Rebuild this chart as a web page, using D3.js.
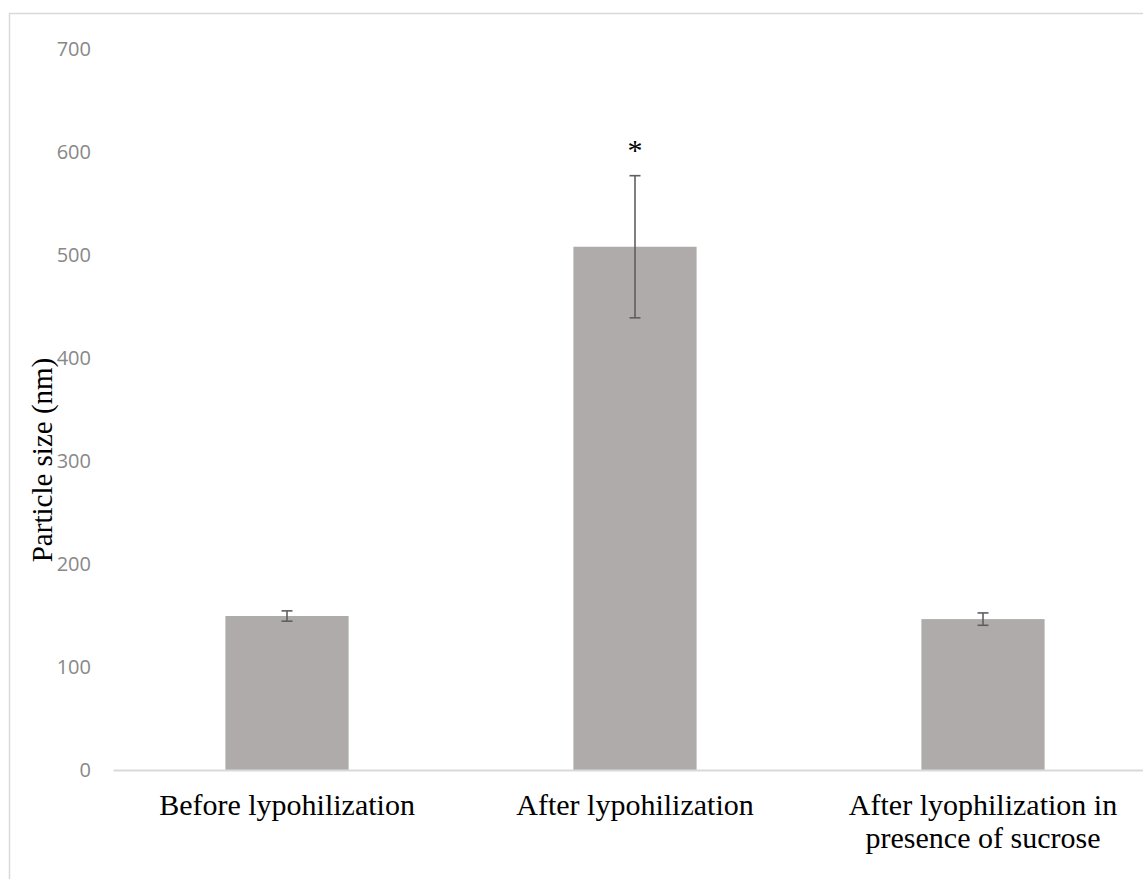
<!DOCTYPE html>
<html lang="en">
<head>
    <meta charset="UTF-8">
    <title>Particle size</title>
    <style>
        body { margin: 0; background: #fff; }
        #chart { width: 1143px; height: 879px; }
        .y-axis text { font-family: "Open Sans", "Liberation Sans", sans-serif; font-size: 20px; fill: #888888; }
        .x-axis text { font-family: "Liberation Serif", "Times New Roman", serif; font-size: 30px; fill: #000; }
    </style>
    <script src="https://d3js.org/d3.v7.min.js"></script>
</head>
<body>
    <div id="chart"></div>
    <script>
        // chart data
        const categories = ["Before lypohilization", "After lypohilization", "After lyophilization in presence of sucrose"];
        const labelLines = [["Before lypohilization"], ["After lypohilization"], ["After lyophilization in", "presence of sucrose"]];
        const means = [149.5, 508, 146.5];
        const errors = [5, 69, 6];
        const marks = ["", "*", ""];
        const yTicks = [0, 100, 200, 300, 400, 500, 600, 700];

        const width = 1143, height = 879;
        const margin = { top: 49, left: 113, bottom: 770 };

        const svg = d3.select("#chart").append("svg")
            .attr("width", width)
            .attr("height", height);

        // outer chart border (right/bottom run off the picture)
        svg.append("rect")
            .attr("x", 9.5).attr("y", 13.5)
            .attr("width", 1160).attr("height", 900)
            .attr("fill", "none")
            .attr("stroke", "#d9d9d9")
            .attr("stroke-width", 1.5);

        const x = d3.scaleBand()
            .domain(categories)
            .range([margin.left, margin.left + 348 * 3])
            .paddingInner(0.646)
            .paddingOuter(0.323);

        const y = d3.scaleLinear()
            .domain([0, 700])
            .range([margin.bottom, margin.top]);

        // y axis labels only
        const yAxis = svg.append("g")
            .attr("class", "y-axis")
            .attr("transform", `translate(${margin.left - 10},0)`)
            .call(d3.axisLeft(y).tickValues(yTicks).tickSize(0).tickPadding(12));
        yAxis.select(".domain").remove();

        // bars
        svg.selectAll("rect.bar")
            .data(means)
            .enter()
            .append("rect")
            .attr("class", "bar")
            .attr("x", (d, i) => x(categories[i]))
            .attr("y", d => y(d))
            .attr("width", x.bandwidth())
            .attr("height", d => y(0) - y(d))
            .attr("fill", "#afabab");

        // x axis
        const xAxis = svg.append("g")
            .attr("class", "x-axis")
            .attr("transform", `translate(0,${y(0)})`)
            .call(d3.axisBottom(x).tickSize(0).tickSizeOuter(0));
        xAxis.select(".domain")
            .attr("stroke", "#d9d9d9")
            .attr("stroke-width", 2);
        xAxis.selectAll(".tick text").each(function(d, i) {
            const t = d3.select(this).text(null).attr("y", 0).attr("dy", null);
            labelLines[i].forEach((line, j) => {
                t.append("tspan")
                    .attr("x", 0)
                    .attr("y", 45 + j * 33)
                    .text(line);
            });
        });

        // error bars
        const capW = 11;
        const eb = svg.append("g").attr("stroke", "#5f5f5f").attr("stroke-width", 1.6);
        means.forEach((m, i) => {
            const cx = x(categories[i]) + x.bandwidth() / 2;
            const lo = y(m - errors[i]), hi = y(m + errors[i]);
            eb.append("line").attr("x1", cx).attr("x2", cx).attr("y1", lo).attr("y2", hi);
            eb.append("line").attr("x1", cx - capW / 2).attr("x2", cx + capW / 2).attr("y1", lo).attr("y2", lo);
            eb.append("line").attr("x1", cx - capW / 2).attr("x2", cx + capW / 2).attr("y1", hi).attr("y2", hi);
        });

        // significance marks
        svg.selectAll("text.sig")
            .data(marks)
            .enter()
            .append("text")
            .attr("class", "sig")
            .attr("x", (d, i) => x(categories[i]) + x.bandwidth() / 2)
            .attr("y", (d, i) => y(means[i] + errors[i]) - 16)
            .attr("text-anchor", "middle")
            .attr("font-family", "Liberation Serif, serif")
            .attr("font-size", 30)
            .text(d => d);

        // y title
        svg.append("text")
            .attr("transform", "translate(52,460) rotate(-90)")
            .attr("text-anchor", "middle")
            .attr("font-family", "Liberation Serif, serif")
            .attr("font-size", 29)
            .text("Particle size (nm)");
    </script>
</body>
</html>
